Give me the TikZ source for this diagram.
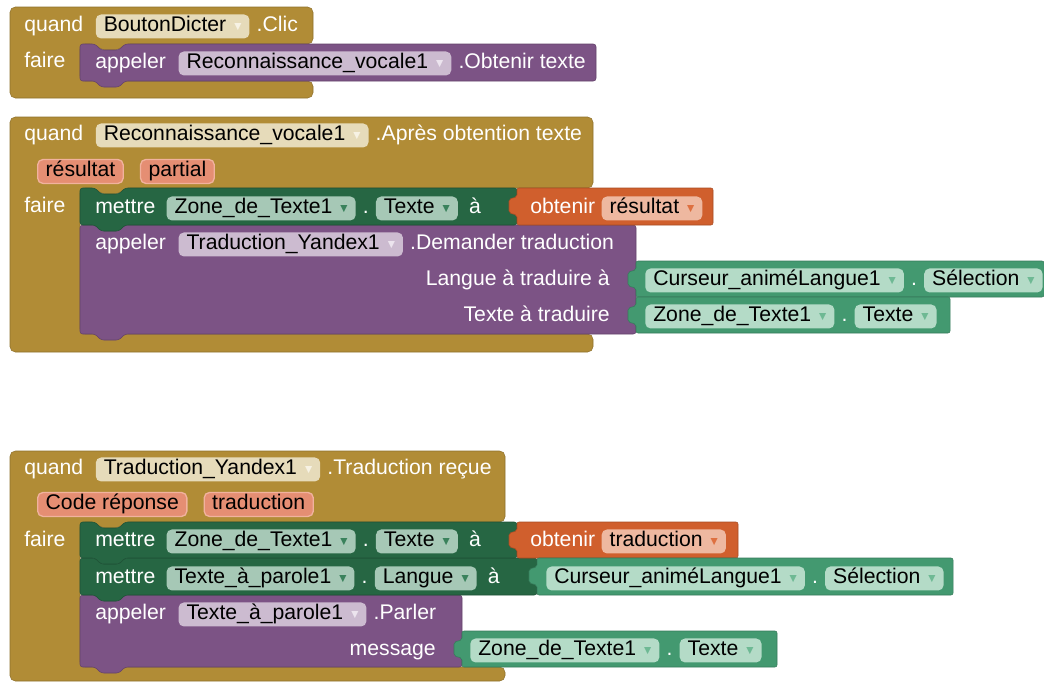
\documentclass[tikz,border=0pt]{standalone}
\usepackage{fontspec}
\setmainfont{Liberation Sans}
\newfontfamily\symfont{DejaVu Sans}
\usetikzlibrary{positioning}

\definecolor{gold}{RGB}{177,140,54}
\definecolor{goldfld}{RGB}{230,219,186}
\definecolor{goldarr}{RGB}{247,242,228}
\definecolor{purp}{RGB}{124,83,133}
\definecolor{purpfld}{RGB}{204,187,208}
\definecolor{purparr}{RGB}{236,228,238}
\definecolor{dgrn}{RGB}{38,102,67}
\definecolor{dgrnfld}{RGB}{166,200,182}
\definecolor{dgrnarr}{RGB}{58,130,92}
\definecolor{lgrn}{RGB}{67,153,112}
\definecolor{lgrnfld}{RGB}{180,219,199}
\definecolor{lgrnarr}{RGB}{110,185,148}
\definecolor{orng}{RGB}{208,95,45}
\definecolor{orngfld}{RGB}{238,184,160}
\definecolor{orngarr}{RGB}{222,112,64}
\definecolor{parfill}{RGB}{229,142,115}
\definecolor{parline}{RGB}{241,178,158}

% dropdown arrow inside a field
\newcommand{\dd}[1]{\hspace{6pt}\raisebox{1.5pt}{\symfont\fontsize{7}{7}\selectfont\color{#1}▼}\hspace{1.5pt}}
% statement block: colour, x1, y1, x2, y2
\newcommand{\stmt}[5]{%
  \filldraw[fill=#1,draw=#1!80!black,line width=0.4pt,rounded corners=2pt]
    (#2,#3) -- ({#2+15},#3) -- ({#2+21},{#3+6}) -- ({#2+39},{#3+6}) -- ({#2+45},#3) -- (#4,#3)
    -- (#4,#5) -- ({#2+45},#5) -- ({#2+39},{#5+6}) -- ({#2+21},{#5+6}) -- ({#2+15},#5) -- (#2,#5) -- cycle;}
% value block with its plug on the left
\newcommand{\val}[5]{%
  \filldraw[fill=#1,draw=#1!80!black,line width=0.4pt,rounded corners=1.5pt]
    (#2,#3) -- (#4,#3) -- (#4,#5) -- (#2,#5) -- (#2,{#3+27}) -- ({#2-8},{#3+25})
    -- ({#2-8},{#3+11}) -- (#2,{#3+9}) -- cycle;}

\begin{document}
\begin{tikzpicture}[x=0.75pt,y=-0.75pt,
  every node/.style={font=\fontsize{15.9}{18}\selectfont,inner sep=0pt,text height=11pt,text depth=3.5pt},
  row/.style={yshift=-1.1pt},
  lbl/.style={text=white},
  fld/.style={rounded corners=4pt,minimum height=18pt,inner xsep=6pt,text=black},
  gfld/.style={fld,fill=goldfld},
  pfld/.style={fld,fill=purpfld},
  dfld/.style={fld,fill=dgrnfld},
  lfld/.style={fld,fill=lgrnfld},
  ofld/.style={fld,fill=orngfld},
  param/.style={fld,fill=parfill,draw=parline,line width=1pt},
  evt/.style={fill=gold,draw=gold!80!black,line width=0.4pt,rounded corners=4pt}
]
\useasboundingbox (0,0) rectangle (1044,682);

% BoutonDicter.Clic
\filldraw[evt] (10,7) -- (313,7) -- (313,44) -- (125,44) -- (119,50) -- (101,50) -- (95,44) -- (80,44)
  -- (80,81) -- (313,81) -- (313,98) -- (10,98) -- cycle;
\stmt{purp}{80}{44}{596}{81}
\node[lbl,row,anchor=west] (q1) at (24,25) {quand};
\node[gfld,right=9pt of q1] (btn1) {BoutonDicter\dd{goldarr}};
\node[lbl,right=5pt of btn1] (clic1) {.Clic};
\node[lbl,row,anchor=west] (f1) at (24,61) {faire};
\node[lbl,row,anchor=west] (ap1) at (95,62) {appeler};
\node[pfld,right=9pt of ap1] (rv1) {Reconnaissance\_vocale1\dd{purparr}};
\node[lbl,right=5pt of rv1] (ob1) {.Obtenir texte};

% Reconnaissance_vocale1.Apres obtention texte
\filldraw[evt] (10,117) -- (593,117) -- (593,188) -- (125,188) -- (119,194) -- (101,194) -- (95,188) -- (80,188)
  -- (80,334) -- (593,334) -- (593,352) -- (10,352) -- cycle;
\stmt{purp}{80}{225}{636}{334}
\stmt{dgrn}{80}{188}{517}{225}
\val{orng}{517}{188}{713}{225}
\val{lgrn}{636}{261}{1044}{297}
\val{lgrn}{636}{297}{950}{333}
\node[lbl,row,anchor=west] (q2) at (24,134) {quand};
\node[gfld,right=9pt of q2] (rv2) {Reconnaissance\_vocale1\dd{goldarr}};
\node[lbl,right=5pt of rv2] (apr2) {.Après obtention texte};
\node[param,row,anchor=west] (res2) at (37,170) {résultat};
\node[param,right=12pt of res2] (par2) {partial};
\node[lbl,row,anchor=west] (f2) at (24,206) {faire};
\node[lbl,row,anchor=west] (m2) at (95,207) {mettre};
\node[dfld,right=8pt of m2] (zt2) {Zone\_de\_Texte1\dd{dgrnarr}};
\node[lbl,right=5pt of zt2] (dt2) {.};
\node[dfld,right=5pt of dt2] (tx2) {Texte\dd{dgrnarr}};
\node[lbl,right=8pt of tx2] (a2) {à};
\node[lbl,row,anchor=west] (get2) at (530,207) {obtenir};
\node[ofld,right=4.5pt of get2] (gr2) {résultat\dd{orngarr}};
\node[lbl,row,anchor=west] (ap2) at (95,243) {appeler};
\node[pfld,right=9pt of ap2] (ty2) {Traduction\_Yandex1\dd{purparr}};
\node[lbl,right=5pt of ty2] (dem2) {.Demander traduction};
\node[lbl,row,anchor=east] (lg2) at (610,279) {Langue à traduire à};
\node[lbl,row,anchor=east] (tt2) at (610,315) {Texte à traduire};
\node[lfld,row,anchor=west] (cu2) at (645,279) {Curseur\_animéLangue1\dd{lgrnarr}};
\node[lbl,right=5pt of cu2] (dc2) {.};
\node[lfld,right=5pt of dc2] (se2) {Sélection\dd{lgrnarr}};
\node[lfld,row,anchor=west] (zz2) at (645,315) {Zone\_de\_Texte1\dd{lgrnarr}};
\node[lbl,right=5pt of zz2] (dz2) {.};
\node[lfld,right=5pt of dz2] (te2) {Texte\dd{lgrnarr}};

% Traduction_Yandex1.Traduction recue
\filldraw[evt] (10,451) -- (505,451) -- (505,522) -- (125,522) -- (119,528) -- (101,528) -- (95,522) -- (80,522)
  -- (80,667) -- (505,667) -- (505,681) -- (10,681) -- cycle;
\stmt{purp}{80}{595}{462}{667}
\stmt{dgrn}{80}{558}{537}{595}
\stmt{dgrn}{80}{522}{517}{558}
\val{orng}{517}{522}{738}{558}
\val{lgrn}{537}{558}{953}{595}
\val{lgrn}{462}{631}{777}{667}
\node[lbl,row,anchor=west] (q3) at (24,468) {quand};
\node[gfld,right=9pt of q3] (ty3) {Traduction\_Yandex1\dd{goldarr}};
\node[lbl,right=5pt of ty3] (rec3) {.Traduction reçue};
\node[param,row,anchor=west] (cod3) at (37,503) {Code réponse};
\node[param,right=12pt of cod3] (tra3) {traduction};
\node[lbl,row,anchor=west] (f3) at (24,540) {faire};
\node[lbl,row,anchor=west] (m3) at (95,540) {mettre};
\node[dfld,right=8pt of m3] (zt3) {Zone\_de\_Texte1\dd{dgrnarr}};
\node[lbl,right=5pt of zt3] (dt3) {.};
\node[dfld,right=5pt of dt3] (tx3) {Texte\dd{dgrnarr}};
\node[lbl,right=8pt of tx3] (a3) {à};
\node[lbl,row,anchor=west] (get3) at (530,540) {obtenir};
\node[ofld,right=4.5pt of get3] (gt3) {traduction\dd{orngarr}};
\node[lbl,row,anchor=west] (m4) at (95,577) {mettre};
\node[dfld,right=8pt of m4] (tp4) {Texte\_à\_parole1\dd{dgrnarr}};
\node[lbl,right=5pt of tp4] (dt4) {.};
\node[dfld,right=5pt of dt4] (la4) {Langue\dd{dgrnarr}};
\node[lbl,right=8pt of la4] (a4) {à};
\node[lfld,row,anchor=west] (cu4) at (546,577) {Curseur\_animéLangue1\dd{lgrnarr}};
\node[lbl,right=5pt of cu4] (dc4) {.};
\node[lfld,right=5pt of dc4] (se4) {Sélection\dd{lgrnarr}};
\node[lbl,row,anchor=west] (ap5) at (95,613) {appeler};
\node[pfld,right=9pt of ap5] (tp5) {Texte\_à\_parole1\dd{purparr}};
\node[lbl,right=5pt of tp5] (pa5) {.Parler};
\node[lbl,row,anchor=east] (ms5) at (436,649) {message};
\node[lfld,row,anchor=west] (zz5) at (470,649) {Zone\_de\_Texte1\dd{lgrnarr}};
\node[lbl,right=5pt of zz5] (dz5) {.};
\node[lfld,right=5pt of dz5] (te5) {Texte\dd{lgrnarr}};
\end{tikzpicture}
\end{document}
